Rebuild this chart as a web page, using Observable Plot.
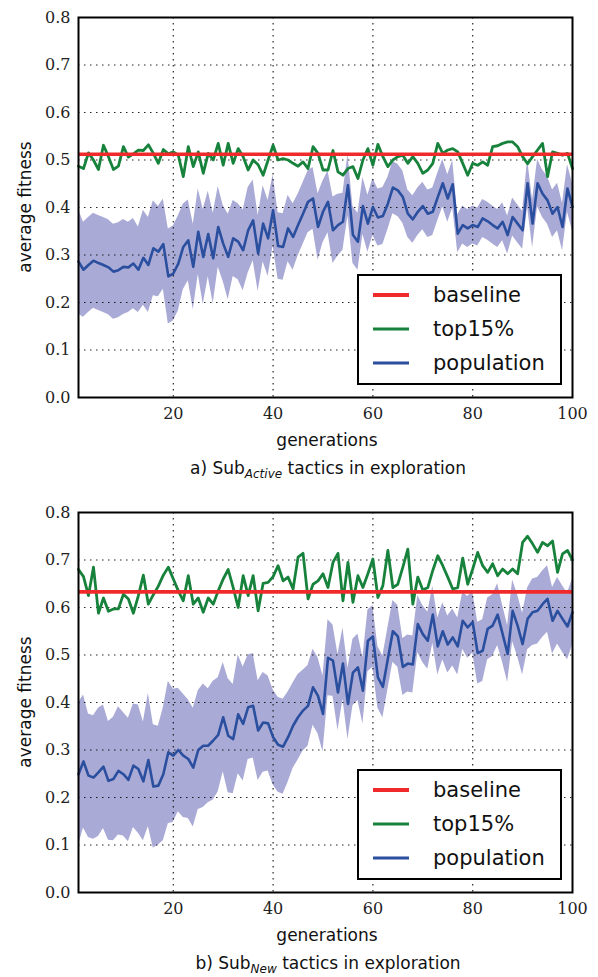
<!DOCTYPE html>
<html>
<head>
<meta charset="utf-8">
<script src="https://cdn.jsdelivr.net/npm/d3@7"></script>
<script src="https://cdn.jsdelivr.net/npm/@observablehq/plot@0.6"></script>
<style>
  html, body { margin: 0; padding: 0; background: white; }
  #page { position: relative; width: 598px; height: 977px; font-family: "DejaVu Sans", sans-serif; color: #111; }
  .panel { position: absolute; left: 0; }
  .ylab { position: absolute; font-size: 17px; transform: translate(-50%, -50%) rotate(-90deg); white-space: nowrap; }
  .xlab { position: absolute; font-size: 17px; transform: translate(-50%, -50%); white-space: nowrap; }
  .cap { position: absolute; font-size: 17px; transform: translate(-50%, -50%); white-space: nowrap; line-height: 20px; }
  .cap sub { font-style: italic; font-size: 12px; vertical-align: -4px; line-height: 0; }
  .legend { position: absolute; width: 201px; height: 107px; border: 2px solid black; background: white; }
  .legend .row { position: absolute; left: 0; height: 30px; width: 100%; }
  .legend .sw { position: absolute; left: 14px; width: 36px; top: 50%; transform: translateY(-50%); }
  .legend .lt { position: absolute; left: 74px; top: 50%; transform: translateY(-52%); font-size: 21px; white-space: nowrap; }
</style>
</head>
<body>
<div id="page"></div>
<script>
// ---------- data ----------
const generations = d3.range(1, 101);
const xTicks = [20, 40, 60, 80, 100];
const yTicks = [0, 0.1, 0.2, 0.3, 0.4, 0.5, 0.6, 0.7, 0.8];
const seriesNames = ["baseline", "top15%", "population"];

// a) Sub_Active
const baselineA = 0.512;
const top15A = [
  0.487, 0.482, 0.515, 0.500, 0.480, 0.531, 0.507, 0.480, 0.487, 0.528,
  0.506, 0.513, 0.521, 0.520, 0.532, 0.514, 0.493, 0.522, 0.513, 0.517,
  0.510, 0.465, 0.528, 0.486, 0.517, 0.472, 0.514, 0.500, 0.535, 0.489,
  0.535, 0.493, 0.524, 0.507, 0.479, 0.500, 0.490, 0.468, 0.500, 0.531,
  0.500, 0.503, 0.500, 0.493, 0.487, 0.496, 0.482, 0.528, 0.514, 0.479,
  0.479, 0.520, 0.475, 0.468, 0.482, 0.486, 0.461, 0.500, 0.524, 0.489,
  0.533, 0.507, 0.486, 0.500, 0.507, 0.510, 0.493, 0.507, 0.493, 0.472,
  0.479, 0.493, 0.535, 0.514, 0.521, 0.524, 0.517, 0.493, 0.468, 0.493,
  0.489, 0.496, 0.489, 0.528, 0.530, 0.535, 0.538, 0.538, 0.528, 0.507,
  0.492, 0.507, 0.521, 0.535, 0.465, 0.517, 0.514, 0.510, 0.514, 0.482
];
const popA = [
  0.286, 0.269, 0.279, 0.288, 0.283, 0.279, 0.274, 0.265, 0.268, 0.275,
  0.274, 0.282, 0.269, 0.294, 0.279, 0.314, 0.307, 0.323, 0.255, 0.261,
  0.282, 0.317, 0.331, 0.275, 0.349, 0.296, 0.344, 0.293, 0.359, 0.324,
  0.296, 0.335, 0.328, 0.310, 0.352, 0.373, 0.303, 0.366, 0.335, 0.394,
  0.319, 0.317, 0.356, 0.338, 0.363, 0.387, 0.412, 0.419, 0.359, 0.391,
  0.412, 0.352, 0.363, 0.370, 0.447, 0.342, 0.328, 0.403, 0.366, 0.401,
  0.379, 0.382, 0.408, 0.442, 0.436, 0.422, 0.387, 0.375, 0.391, 0.403,
  0.387, 0.391, 0.422, 0.451, 0.419, 0.449, 0.345, 0.363, 0.356, 0.363,
  0.359, 0.377, 0.371, 0.363, 0.356, 0.370, 0.342, 0.380, 0.366, 0.352,
  0.451, 0.366, 0.451, 0.429, 0.415, 0.387, 0.401, 0.359, 0.440, 0.401
];
const spreadA = [
  0.110, 0.100, 0.100, 0.100, 0.100, 0.100, 0.100, 0.100, 0.100, 0.100,
  0.095, 0.095, 0.090, 0.100, 0.100, 0.100, 0.095, 0.095, 0.100, 0.100,
  0.100, 0.090, 0.085, 0.090, 0.090, 0.100, 0.090, 0.095, 0.085, 0.080,
  0.090, 0.080, 0.080, 0.085, 0.090, 0.085, 0.080, 0.080, 0.080, 0.075,
  0.070, 0.070, 0.070, 0.070, 0.065, 0.065, 0.065, 0.065, 0.070, 0.065,
  0.065, 0.070, 0.065, 0.060, 0.065, 0.060, 0.060, 0.060, 0.060, 0.060,
  0.060, 0.060, 0.055, 0.055, 0.055, 0.055, 0.050, 0.050, 0.050, 0.050,
  0.050, 0.050, 0.050, 0.050, 0.050, 0.050, 0.040, 0.040, 0.040, 0.040,
  0.040, 0.040, 0.040, 0.040, 0.040, 0.040, 0.040, 0.040, 0.040, 0.040,
  0.050, 0.050, 0.050, 0.050, 0.050, 0.050, 0.050, 0.050, 0.050, 0.050
];

// b) Sub_New
const baselineB = 0.633;
const top15B = [
  0.680, 0.665, 0.625, 0.685, 0.588, 0.620, 0.592, 0.597, 0.597, 0.628,
  0.618, 0.588, 0.625, 0.668, 0.607, 0.627, 0.645, 0.668, 0.685, 0.660,
  0.635, 0.614, 0.667, 0.607, 0.620, 0.590, 0.620, 0.607, 0.635, 0.660,
  0.680, 0.642, 0.600, 0.667, 0.625, 0.667, 0.593, 0.651, 0.653, 0.665,
  0.688, 0.656, 0.664, 0.639, 0.706, 0.714, 0.618, 0.649, 0.656, 0.671,
  0.642, 0.695, 0.714, 0.614, 0.695, 0.611, 0.667, 0.642, 0.671, 0.702,
  0.621, 0.646, 0.720, 0.642, 0.649, 0.685, 0.723, 0.607, 0.664, 0.637,
  0.642, 0.678, 0.709, 0.688, 0.664, 0.639, 0.642, 0.704, 0.649, 0.681,
  0.716, 0.688, 0.674, 0.692, 0.667, 0.681, 0.671, 0.681, 0.671, 0.737,
  0.750, 0.734, 0.716, 0.737, 0.730, 0.740, 0.674, 0.713, 0.720, 0.700
];
const popB = [
  0.249, 0.276, 0.246, 0.242, 0.253, 0.265, 0.235, 0.239, 0.256, 0.249,
  0.237, 0.267, 0.260, 0.234, 0.279, 0.223, 0.225, 0.249, 0.295, 0.288,
  0.300, 0.288, 0.281, 0.263, 0.300, 0.309, 0.309, 0.320, 0.332, 0.369,
  0.330, 0.323, 0.375, 0.355, 0.390, 0.393, 0.341, 0.358, 0.356, 0.327,
  0.311, 0.307, 0.327, 0.351, 0.369, 0.383, 0.393, 0.432, 0.414, 0.376,
  0.494, 0.488, 0.421, 0.482, 0.397, 0.463, 0.474, 0.425, 0.530, 0.539,
  0.453, 0.433, 0.492, 0.550, 0.539, 0.475, 0.482, 0.480, 0.565, 0.544,
  0.530, 0.585, 0.518, 0.550, 0.522, 0.537, 0.518, 0.572, 0.558, 0.569,
  0.504, 0.509, 0.555, 0.562, 0.585, 0.544, 0.502, 0.593, 0.562, 0.523,
  0.576, 0.590, 0.593, 0.607, 0.618, 0.572, 0.593, 0.576, 0.560, 0.590
];
const spreadB = [
  0.150, 0.140, 0.130, 0.130, 0.135, 0.130, 0.125, 0.130, 0.135, 0.130,
  0.130, 0.130, 0.135, 0.125, 0.140, 0.130, 0.125, 0.140, 0.150, 0.140,
  0.130, 0.130, 0.125, 0.125, 0.125, 0.130, 0.120, 0.125, 0.120, 0.115,
  0.120, 0.115, 0.125, 0.120, 0.110, 0.110, 0.105, 0.105, 0.100, 0.100,
  0.100, 0.100, 0.095, 0.090, 0.090, 0.085, 0.085, 0.080, 0.080, 0.080,
  0.080, 0.075, 0.080, 0.075, 0.075, 0.070, 0.070, 0.070, 0.065, 0.065,
  0.065, 0.065, 0.065, 0.065, 0.065, 0.060, 0.060, 0.060, 0.060, 0.060,
  0.060, 0.060, 0.060, 0.060, 0.060, 0.060, 0.060, 0.060, 0.065, 0.065,
  0.065, 0.065, 0.065, 0.065, 0.065, 0.060, 0.060, 0.065, 0.065, 0.065,
  0.065, 0.070, 0.070, 0.070, 0.070, 0.070, 0.070, 0.070, 0.070, 0.070
];

// ---------- styles ----------
const colors = { baseline: "#f02a2a", top: "#17823b", pop: "#2b4f9f", band: "#aaaad6" };
const serif = "DejaVu Serif, Liberation Serif, serif";

function makePanel(baseline, top15, pop, spread) {
  const data = generations.map((g, i) => ({ gen: g, top: top15[i], pop: pop[i], lo: pop[i] - spread[i], hi: pop[i] + spread[i] }));
  const grid = { stroke: "black", strokeOpacity: 0.85, strokeDasharray: "1.5,4.5", strokeWidth: 1.2 };
  return Plot.plot({
    width: 598, height: 450,
    marginLeft: 78, marginRight: 26, marginTop: 17, marginBottom: 53,
    x: { type: "linear", domain: [1, 100] },
    y: { type: "linear", domain: [0, 0.8] },
    style: { fontFamily: serif, fontSize: "16px", color: "#222", background: "white", overflow: "visible" },
    marks: [
      Plot.areaY(data, { x: "gen", y1: "lo", y2: "hi", fill: colors.band, fillOpacity: 1 }),
      Plot.gridY(yTicks.slice(1, -1), grid),
      Plot.gridX(xTicks.slice(0, -1), grid),
      Plot.lineY(data, { x: "gen", y: "pop", stroke: colors.pop, strokeWidth: 2.6 }),
      Plot.lineY(data, { x: "gen", y: "top", stroke: colors.top, strokeWidth: 2.8 }),
      Plot.ruleY([baseline], { stroke: colors.baseline, strokeWidth: 3.6 }),
      Plot.axisX({ ticks: xTicks, tickSize: 0, tickPadding: 10, label: null, tickFormat: d3.format("d"), fontFamily: serif, fontSize: 16 }),
      Plot.axisY({ ticks: yTicks, tickSize: 0, tickPadding: 8, label: null, tickFormat: d3.format(".1f"), fontFamily: serif, fontSize: 16 }),
      Plot.frame({ stroke: "black", strokeWidth: 2 })
    ]
  });
}

const page = document.getElementById("page");

function addPanel(top, chart, capHTML, legendTop) {
  const wrap = document.createElement("div");
  wrap.className = "panel";
  wrap.style.top = top + "px";
  wrap.appendChild(chart);
  page.appendChild(wrap);

  const yl = document.createElement("div");
  yl.className = "ylab"; yl.textContent = "average fitness";
  yl.style.left = "25px"; yl.style.top = (top + 207) + "px";
  page.appendChild(yl);

  const xl = document.createElement("div");
  xl.className = "xlab"; xl.textContent = "generations";
  xl.style.left = "327px"; xl.style.top = (top + 440) + "px";
  page.appendChild(xl);

  const cap = document.createElement("div");
  cap.className = "cap"; cap.innerHTML = capHTML;
  cap.style.left = "328px"; cap.style.top = (top + 468) + "px";
  page.appendChild(cap);

  const lg = document.createElement("div");
  lg.className = "legend";
  lg.style.left = "357px"; lg.style.top = legendTop + "px";
  const swColors = [colors.baseline, colors.top, colors.pop];
  const swWidth = [4, 3, 3];
  seriesNames.forEach((name, i) => {
    const row = document.createElement("div");
    row.className = "row";
    row.style.top = (4 + i * 34) + "px";
    const sw = document.createElement("div");
    sw.className = "sw";
    sw.style.height = swWidth[i] + "px";
    sw.style.background = swColors[i];
    const lt = document.createElement("div");
    lt.className = "lt"; lt.textContent = name;
    row.appendChild(sw); row.appendChild(lt);
    lg.appendChild(row);
  });
  page.appendChild(lg);
}

addPanel(0, makePanel(baselineA, top15A, popA, spreadA), "a) Sub<sub>Active</sub> tactics in exploration", 274);
addPanel(495, makePanel(baselineB, top15B, popB, spreadB), "b) Sub<sub>New</sub> tactics in exploration", 769);
</script>
</body>
</html>
